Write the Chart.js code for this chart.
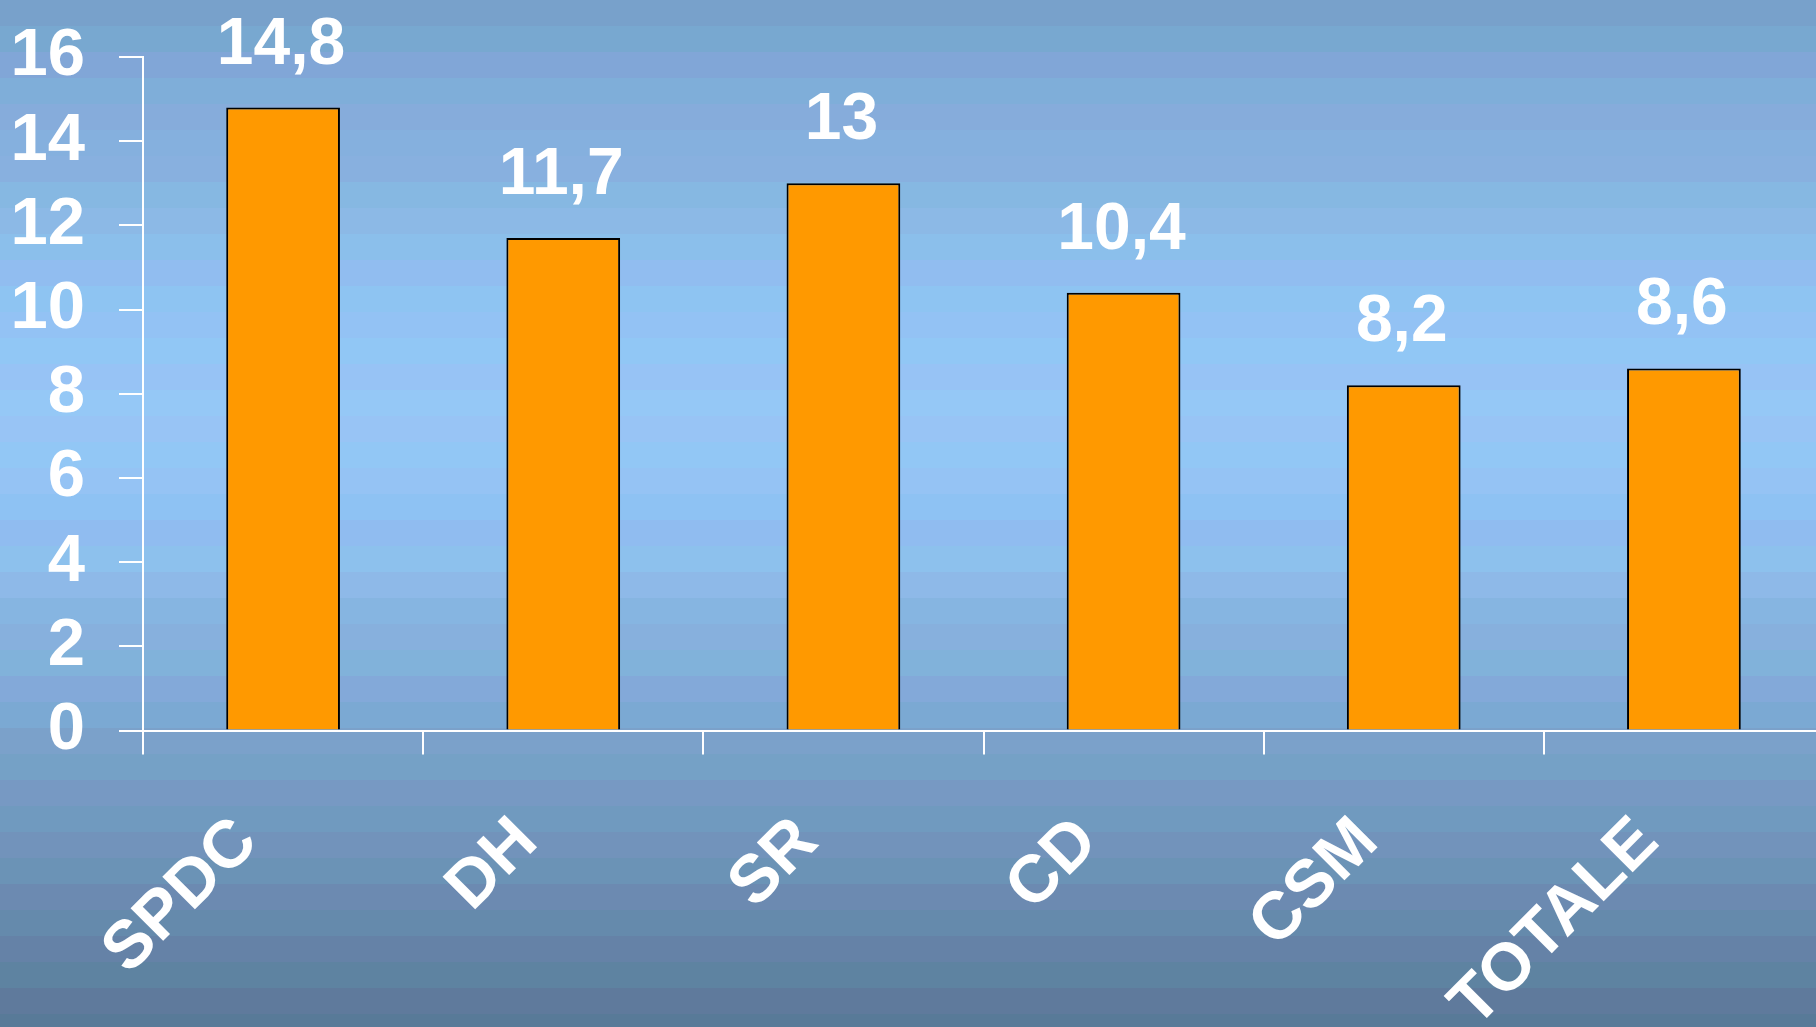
<!DOCTYPE html>
<html>
<head>
<meta charset="utf-8">
<script src="https://cdn.jsdelivr.net/npm/chart.js@4.4.1/dist/chart.umd.min.js"></script>
<style>
  html, body { margin: 0; padding: 0; overflow: hidden; background: #82aed9; }
  #wrap { width: 1840px; height: 1027px; }
</style>
</head>
<body>
<div id="wrap"><canvas id="chart" width="1840" height="1027"></canvas></div>
<script>
// --- DATA ---
const categories = ["SPDC", "DH", "SR", "CD", "CSM", "TOTALE"];
const values = [14.8, 11.7, 13, 10.4, 8.2, 8.6];
const yTicks = [0, 2, 4, 6, 8, 10, 12, 14, 16];

// background band colours (y position, colour)
const bgStops = [
  [0, [117, 160, 204]], [25, [119, 166, 203]], [60, [127, 167, 215]], [100, [130, 174, 217]],
  [140, [135, 174, 222]], [180, [134, 180, 223]], [230, [139, 188, 232]], [270, [143, 191, 240]],
  [320, [145, 196, 244]], [400, [151, 198, 246]], [480, [147, 197, 244]], [520, [142, 190, 242]],
  [570, [143, 191, 236]], [610, [136, 179, 225]], [660, [131, 177, 218]], [700, [128, 169, 216]],
  [740, [121, 163, 202]], [800, [116, 154, 194]], [860, [110, 147, 184]], [920, [103, 136, 173]],
  [980, [95, 128, 160]], [1027, [90, 120, 152]]
];

function bgColorAt(y) {
  for (let i = 0; i < bgStops.length - 1; i++) {
    const a = bgStops[i], b = bgStops[i + 1];
    if (y >= a[0] && y <= b[0]) {
      const t = (y - a[0]) / (b[0] - a[0]);
      return a[1].map((c, k) => Math.round(c + (b[1][k] - c) * t));
    }
  }
  return bgStops[bgStops.length - 1][1];
}

// --- PLUGINS ---
const bandBackground = {
  id: 'bandBackground',
  beforeDraw(chart) {
    const ctx = chart.ctx;
    const band = 26;
    ctx.save();
    for (let y = 0, i = 0; y < chart.height; y += band, i++) {
      const c = bgColorAt(y + band / 2);
      const tint = i % 2 ? 2 : -2;
      ctx.fillStyle = `rgb(${c[0] - tint},${c[1] + tint},${c[2]})`;
      ctx.fillRect(0, y, chart.width, band);
    }
    ctx.restore();
  }
};

const valueLabels = {
  id: 'valueLabels',
  afterDatasetsDraw(chart) {
    const ctx = chart.ctx;
    const meta = chart.getDatasetMeta(0);
    ctx.save();
    ctx.fillStyle = '#ffffff';
    ctx.font = 'bold 66px "Liberation Sans", Arial, sans-serif';
    ctx.textAlign = 'center';
    ctx.textBaseline = 'alphabetic';
    meta.data.forEach((bar, i) => {
      const txt = String(values[i]).replace('.', ',');
      ctx.fillText(txt, bar.x - 2, bar.y - 44);
    });
    ctx.restore();
  }
};

// --- CHART ---
const ctx = document.getElementById('chart').getContext('2d');
new Chart(ctx, {
  type: 'bar',
  data: {
    labels: categories,
    datasets: [{
      data: values,
      backgroundColor: '#ff9900',
      borderColor: '#000000',
      borderWidth: 2,
      barPercentage: 0.406,
      categoryPercentage: 1
    }]
  },
  options: {
    responsive: false,
    animation: false,
    layout: { padding: { top: 57, right: 16, left: 0, bottom: 0 } },
    plugins: { legend: { display: false }, tooltip: { enabled: false } },
    scales: {
      x: {
        afterFit(scale) {
          scale.height = 296.5;
          scale.paddingLeft = 0;
          scale.paddingRight = 0;
        },
        grid: { drawOnChartArea: false, drawTicks: true, tickLength: 24, color: '#ffffff', lineWidth: 2, offset: true },
        border: { display: true, color: '#ffffff', width: 2 },
        ticks: {
          color: '#ffffff',
          font: { family: '"Liberation Sans", Arial, sans-serif', size: 67, weight: 'bold' },
          maxRotation: 45, minRotation: 45,
          autoSkip: false,
          padding: 48,
          labelOffset: -36
        }
      },
      y: {
        min: 0, max: 16,
        afterFit(scale) {
          scale.width = 143;
          scale.paddingTop = 0;
          scale.paddingBottom = 0;
        },
        afterBuildTicks(scale) { scale.ticks = yTicks.map(v => ({ value: v })); },
        grid: { drawOnChartArea: false, drawTicks: true, tickLength: 24, color: '#ffffff', lineWidth: 2 },
        border: { display: true, color: '#ffffff', width: 2 },
        ticks: {
          color: '#ffffff',
          autoSkip: false,
          font: { family: '"Liberation Sans", Arial, sans-serif', size: 67, weight: 'bold' },
          padding: 34
        }
      }
    }
  },
  plugins: [bandBackground, valueLabels]
});
</script>
</body>
</html>
